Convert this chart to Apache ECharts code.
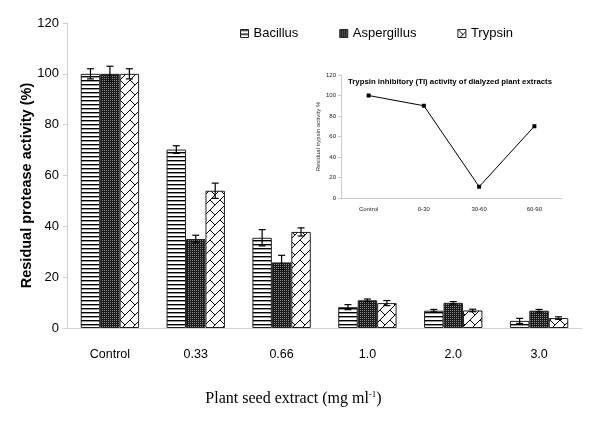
<!DOCTYPE html>
<html>
<head>
<meta charset="utf-8">
<script src="https://cdn.jsdelivr.net/npm/echarts@6/dist/echarts.min.js"></script>
<style>
  html, body { margin: 0; padding: 0; background: #fff; }
  #chart { width: 600px; height: 423px; }
</style>
</head>
<body>
<div id="chart"></div>
<script>
// 主图数据
var categories = ['Control', '0.33', '0.66', '1.0', '2.0', '3.0'];
var seriesNames = ['Bacillus', 'Aspergillus', 'Trypsin'];
var bacillus = [100, 70.2, 35.5, 8.2, 6.8, 2.8];
var aspergillus = [100, 35, 25.8, 10.9, 9.9, 6.8];
var trypsin = [100, 54, 37.8, 9.8, 6.9, 3.9];
var bacillusErr = [2, 1.5, 3.2, 1, 0.5, 1];
var aspergillusErr = [3, 1.5, 2.8, 0.5, 0.5, 0.5];
var trypsinErr = [2, 3, 1.6, 1, 0.5, 0.5];
var yTicks = [0, 20, 40, 60, 80, 100, 120];

// 插图数据
var insetCategories = ['Control', '0-30', '30-60', '60-90'];
var insetValues = [100, 90, 11, 70];

var catGap = 0.32;

function makePattern(kind) {
    var c = document.createElement('canvas');
    var ctx = c.getContext('2d');
    if (kind === 'hline') {
        c.width = 4; c.height = 4;
        ctx.fillStyle = '#fff';
        ctx.fillRect(0, 0, 4, 4);
        ctx.fillStyle = '#000';
        ctx.fillRect(0, 0, 4, 1.4);
    } else if (kind === 'dots') {
        c.width = 2; c.height = 2;
        ctx.fillStyle = '#1a1a1a';
        ctx.fillRect(0, 0, 2, 2);
        ctx.fillStyle = '#888';
        ctx.fillRect(0, 0, 1, 1);
    } else {
        c.width = 10; c.height = 10;
        ctx.fillStyle = '#fff';
        ctx.fillRect(0, 0, 10, 10);
        ctx.strokeStyle = '#000';
        ctx.lineWidth = 1;
        ctx.beginPath();
        ctx.moveTo(0, 10); ctx.lineTo(10, 0);
        ctx.moveTo(0, 0); ctx.lineTo(5, 5);
        ctx.stroke();
    }
    return { image: c, repeat: 'repeat' };
}

var patterns = [makePattern('hline'), makePattern('dots'), makePattern('brick')];
var values = [bacillus, aspergillus, trypsin];
var errors = [bacillusErr, aspergillusErr, trypsinErr];

var series = [];
seriesNames.forEach(function (name, i) {
    series.push({
        name: name,
        type: 'bar',
        xAxisIndex: 0,
        yAxisIndex: 0,
        data: values[i],
        barGap: '0%',
        barCategoryGap: (catGap * 100) + '%',
        itemStyle: {
            color: patterns[i],
            borderColor: '#222',
            borderWidth: 1
        }
    });
});

// 误差棒
seriesNames.forEach(function (name, i) {
    var data = values[i].map(function (v, k) {
        return [k, v, errors[i][k]];
    });
    series.push({
        type: 'custom',
        xAxisIndex: 0,
        yAxisIndex: 0,
        z: 5,
        silent: true,
        data: data,
        renderItem: function (params, api) {
            var k = api.value(0);
            var v = api.value(1);
            var e = api.value(2);
            var catW = api.size([1, 0])[0];
            var barW = catW * (1 - catGap) / 3;
            var base = api.coord([k, v]);
            var x = base[0] + (i - 1) * barW;
            var top = api.coord([k, v + e])[1];
            var bot = api.coord([k, v - e])[1];
            var cap = 3.5;
            var style = { stroke: '#000', lineWidth: 1.2 };
            return {
                type: 'group',
                children: [
                    { type: 'line', shape: { x1: x, y1: top, x2: x, y2: bot }, style: style },
                    { type: 'line', shape: { x1: x - cap, y1: top, x2: x + cap, y2: top }, style: style },
                    { type: 'line', shape: { x1: x - cap, y1: bot, x2: x + cap, y2: bot }, style: style }
                ]
            };
        }
    });
});

series.push({
    type: 'line',
    xAxisIndex: 1,
    yAxisIndex: 1,
    data: insetValues,
    symbol: 'rect',
    symbolSize: 4,
    lineStyle: { color: '#000', width: 1 },
    itemStyle: { color: '#000' }
});

var option = {
    animation: false,
    backgroundColor: '#fff',
    legend: {
        left: 235,
        top: 22,
        icon: 'rect',
        itemWidth: 8,
        itemHeight: 8,
        itemGap: 41,
        data: seriesNames,
        textStyle: { fontFamily: 'Liberation Sans', fontSize: 13, color: '#000' },
        itemStyle: { borderColor: '#222', borderWidth: 1 }
    },
    title: {
        text: 'Trypsin inhibitory (TI) activity of dialyzed plant extracts',
        left: 445,
        textAlign: 'center',
        top: 73,
        textStyle: { fontFamily: 'Liberation Sans', fontSize: 7.8, fontWeight: 'bold', color: '#000' }
    },
    grid: [
        { left: 67, right: 18, top: 23, bottom: 95 },
        { left: 341, right: 38, top: 75, bottom: 225 }
    ],
    xAxis: [
        {
            type: 'category',
            gridIndex: 0,
            data: categories,
            name: '{t|Plant seed extract (mg ml}{s|-1}{t|)}',
            nameLocation: 'middle',
            nameGap: 62,
            nameTextStyle: {
                padding: [0, 62, 0, 0],
                rich: {
                    t: { fontFamily: 'Liberation Serif', fontSize: 16, color: '#000' },
                    s: { fontFamily: 'Liberation Serif', fontSize: 9, color: '#000', verticalAlign: 'top', padding: [0, 0, 8, 0] }
                }
            },
            axisLine: { lineStyle: { color: '#d0d0d0' } },
            axisTick: { alignWithLabel: false, length: 5, lineStyle: { color: '#d0d0d0' } },
            axisLabel: { fontFamily: 'Liberation Sans', fontSize: 12.5, color: '#000', margin: 20 }
        },
        {
            type: 'category',
            gridIndex: 1,
            data: insetCategories,
            boundaryGap: true,
            axisLine: { lineStyle: { color: '#ccc' } },
            axisTick: { length: 3, lineStyle: { color: '#ccc' } },
            axisLabel: { fontFamily: 'Liberation Sans', fontSize: 6, color: '#222', margin: 8 }
        }
    ],
    yAxis: [
        {
            type: 'value',
            gridIndex: 0,
            min: yTicks[0],
            max: yTicks[yTicks.length - 1],
            interval: 20,
            name: 'Residual protease activity (%)',
            nameLocation: 'middle',
            nameGap: 33,
            nameMoveOverlap: false,
            nameTextStyle: { fontFamily: 'Liberation Sans', fontSize: 14.5, fontWeight: 'bold', color: '#000', padding: [0, 20, 0, 0] },
            axisLine: { show: true, lineStyle: { color: '#d0d0d0' } },
            axisTick: { show: true, length: 4, lineStyle: { color: '#d0d0d0' } },
            axisLabel: { fontFamily: 'Liberation Sans', fontSize: 13, color: '#000', margin: 8 },
            splitLine: { show: false }
        },
        {
            type: 'value',
            gridIndex: 1,
            min: 0,
            max: 120,
            interval: 20,
            name: 'Residual trypsin activity %',
            nameLocation: 'middle',
            nameGap: 20,
            nameMoveOverlap: false,
            nameTextStyle: { fontFamily: 'Liberation Sans', fontSize: 6, color: '#333' },
            axisLine: { show: true, lineStyle: { color: '#ccc' } },
            axisTick: { show: true, length: 3, lineStyle: { color: '#ccc' } },
            axisLabel: { fontFamily: 'Liberation Sans', fontSize: 6, color: '#222', margin: 5 },
            splitLine: { show: false }
        }
    ],
    series: series
};

var chart = echarts.init(document.getElementById('chart'), null, { renderer: 'canvas' });
chart.setOption(option);
</script>
</body>
</html>
